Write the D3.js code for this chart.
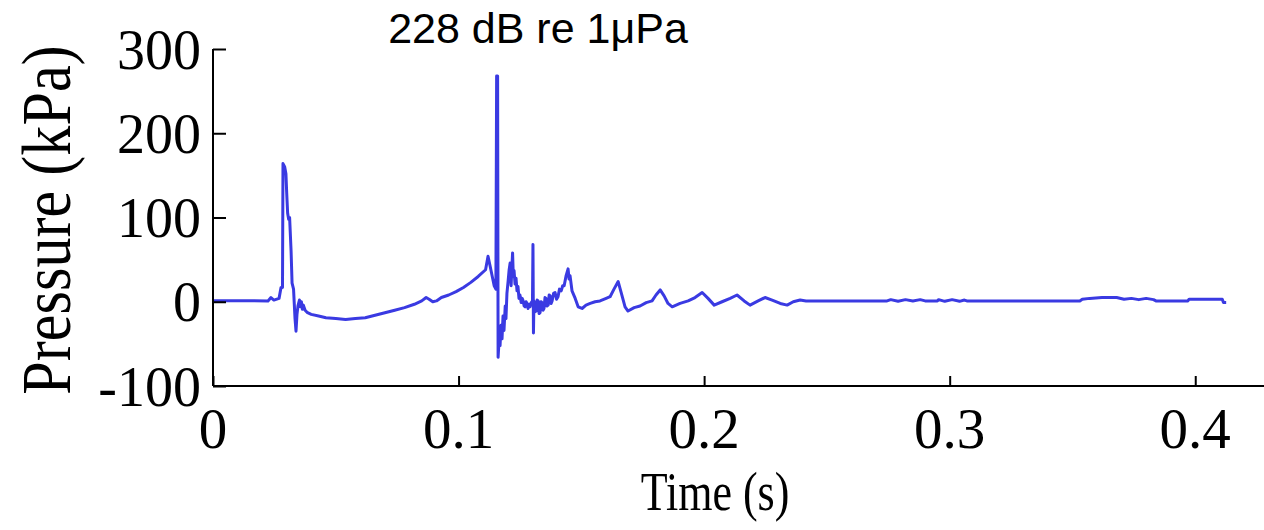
<!DOCTYPE html>
<html>
<head>
<meta charset="utf-8">
<script src="https://cdn.jsdelivr.net/npm/d3@7"></script>
<style>
  html, body { margin: 0; padding: 0; background: #ffffff; }
  svg { display: block; }
</style>
</head>
<body>
<svg id="chart" width="1264" height="530"></svg>
<script>
// ---- data ----
const titleText = "228 dB re 1\u03bcPa";
const xLabel = "Time (s)";
const yLabel = "Pressure (kPa)";
const xTicks = [0, 0.1, 0.2, 0.3, 0.4];
const xTickLabels = ["0", "0.1", "0.2", "0.3", "0.4"];
const yTicks = [-100, 0, 100, 200, 300];
const yTickLabels = ["-100", "0", "100", "200", "300"];

// time in seconds
const time = [
  0, 0.0224, 0.0236, 0.0248, 0.0269, 0.0277, 0.0283,
  0.0285, 0.0292, 0.0297, 0.0300, 0.0304, 0.0308, 0.0312, 0.0318, 0.0322, 0.0328,
  0.0334, 0.0338, 0.0342, 0.0346, 0.0352, 0.0356, 0.0360, 0.0364, 0.0368, 0.0375, 0.0385,
  0.040, 0.043, 0.046, 0.050, 0.054, 0.058, 0.062, 0.066, 0.070, 0.074, 0.078,
  0.082, 0.085, 0.0868, 0.088, 0.0895, 0.091, 0.093, 0.096, 0.099, 0.102, 0.105,
  0.108, 0.111, 0.112, 0.1128, 0.1145, 0.1152, 0.1155, 0.1159, 0.1161,
  0.1165, 0.1169, 0.1173, 0.1177, 0.1181, 0.1185, 0.1190, 0.1193, 0.1197, 0.1202, 0.1206, 0.1210,
  0.1214, 0.1217, 0.1220, 0.1223, 0.1226, 0.1230, 0.1234, 0.1238, 0.1242, 0.1246, 0.1250, 0.1255,
  0.1259, 0.1263, 0.1267, 0.1271, 0.1275, 0.1279, 0.1283, 0.1287, 0.1291, 0.1296,
  0.1301, 0.1303, 0.1305, 0.1307, 0.1311, 0.1316, 0.1320, 0.1324, 0.1328, 0.1332, 0.1336, 0.1340,
  0.1344, 0.1348, 0.1352, 0.1356, 0.1360, 0.1365, 0.1369, 0.1373, 0.1377, 0.1381, 0.1387, 0.1393,
  0.1399, 0.1405, 0.1411, 0.1418, 0.1424, 0.1430, 0.1438, 0.1446,
  0.1450, 0.1454, 0.1462, 0.1475, 0.1487, 0.1503, 0.1519, 0.1536, 0.1556, 0.1576,
  0.1601, 0.1617, 0.1633, 0.1650, 0.1662, 0.1678, 0.1690, 0.1715, 0.1739, 0.1764,
  0.1788, 0.1804, 0.1821, 0.1837, 0.1853, 0.1870, 0.1902, 0.1935, 0.1963, 0.1992,
  0.2016, 0.2041, 0.2073, 0.2106, 0.2134, 0.2163, 0.2187, 0.2220, 0.2248, 0.2277,
  0.2310, 0.2338, 0.2363, 0.2391, 0.2415, 0.2432,
  0.2745, 0.276, 0.279, 0.282, 0.285, 0.288, 0.290,
  0.295, 0.2955, 0.298, 0.301, 0.304, 0.306, 0.307,
  0.353, 0.354, 0.357, 0.362, 0.368, 0.371, 0.374, 0.377, 0.380, 0.383, 0.384,
  0.397, 0.3975, 0.411, 0.4115, 0.4126
];
// pressure in kPa
const pressure = [
  1.2, 1, 5, 2, 4, 17, 17,
  164, 160, 152, 130, 105, 98, 100, 60, 22, 15,
  -20, -35, -15, -5, 2, -6, 0, -9, -4, -10, -13,
  -15, -17, -19, -20, -21, -20, -19, -16, -13, -10, -7,
  -3, 1, 5, 3, 0, 1, 5, 8, 12, 17, 23,
  30, 38, 54, 43, 19, 15, 268, 268, -66,
  -46, -52, -28, -44, -17, -34, -5, -20, 10, 25, 38, 46,
  19, 40, 58, 30, 37, 21, 28, 13, 18, 4, 8, -1,
  4, 1, -5, -6, 0, -2, -8, -3, -6, -1,
  1, 68, -37, 1, -12, -11, 2, 1, -14, -13, 0, -1,
  -10, -8, 5, 4, -5, -4, 8, 7, -2, 1, 10, 11,
  3, 6, 15, 13, 19, 19, 31, 39,
  27, 31, 13, 4, -6, -8, -4, -2, 0, 1,
  4, 6, 15, 24, 11, -6, -11, -7, -5, -1,
  1, 8, 14, 7, -2, -6, -2, 1, 5, 11,
  4, -4, 0, 4, 8, 1, -4, 1, 5, 2,
  -2, -4, 0, 2, 1, 1,
  1, 2.5, 0.5, 2.5, 1, 2.5, 1,
  1, 2.5, 0.5, 2.5, 0.5, 2, 1,
  1, 3, 4, 5, 5, 3, 4, 2.5, 4, 2.5, 1,
  1, 3, 3, -1, -1
];

const series = time.map((t, i) => ({ t: t, p: pressure[i] }));

// ---- layout ----
const svg = d3.select("#chart");
const x = d3.scaleLinear().domain([0, 0.428]).range([213, 1264]);
const y = d3.scaleLinear().domain([-100, 300]).range([386, 49]);

const serif = "'Liberation Serif', 'Times New Roman', serif";

// line
const line = d3.line().x(d => x(d.t)).y(d => y(d.p));
svg.append("path")
  .datum(series)
  .attr("fill", "none")
  .attr("stroke", "#3a3ae2")
  .attr("stroke-width", 3)
  .attr("stroke-linejoin", "round")
  .attr("d", line);

// y axis
const yAxis = d3.axisRight(y).tickValues(yTicks).tickSize(13).tickFormat("");
const gy = svg.append("g").attr("transform", "translate(213,0)").call(yAxis);
gy.select(".domain").attr("d", `M0,${y(-100)}V${y(300)}`).attr("stroke", "#000").attr("stroke-width", 2);
gy.selectAll(".tick line").attr("stroke", "#000").attr("stroke-width", 2);

// y tick labels
svg.append("g").selectAll("text")
  .data(yTicks)
  .join("text")
  .attr("x", 201)
  .attr("y", d => y(d))
  .attr("dy", "0.35em")
  .attr("text-anchor", "end")
  .attr("font-family", serif)
  .attr("font-size", 56)
  .attr("fill", "#000")
  .text((d, i) => yTickLabels[i]);

// x axis
const xAxis = d3.axisTop(x).tickValues(xTicks).tickSize(10).tickFormat("");
const gx = svg.append("g").attr("transform", `translate(0,${y(-100)})`).call(xAxis);
gx.select(".domain").attr("d", `M213,0H1264`).attr("stroke", "#000").attr("stroke-width", 2);
gx.selectAll(".tick line").attr("stroke", "#000").attr("stroke-width", 2);

// x tick labels
svg.append("g").selectAll("text")
  .data(xTicks)
  .join("text")
  .attr("x", d => x(d))
  .attr("y", 448)
  .attr("text-anchor", "middle")
  .attr("font-family", serif)
  .attr("font-size", 57)
  .attr("fill", "#000")
  .text((d, i) => xTickLabels[i]);

// axis titles
svg.append("text")
  .attr("transform", "translate(715,510) scale(0.8,1)")
  .attr("text-anchor", "middle")
  .attr("font-family", serif)
  .attr("font-size", 55)
  .attr("fill", "#000")
  .text(xLabel);

svg.append("text")
  .attr("transform", "translate(70,220) rotate(-90) scale(0.86,1)")
  .attr("text-anchor", "middle")
  .attr("font-family", serif)
  .attr("font-size", 70)
  .attr("fill", "#000")
  .text(yLabel);

// title
svg.append("text")
  .attr("x", 538)
  .attr("y", 43)
  .attr("text-anchor", "middle")
  .attr("font-family", "'Liberation Sans', Arial, sans-serif")
  .attr("font-size", 43)
  .attr("fill", "#000")
  .text(titleText);
</script>
</body>
</html>
